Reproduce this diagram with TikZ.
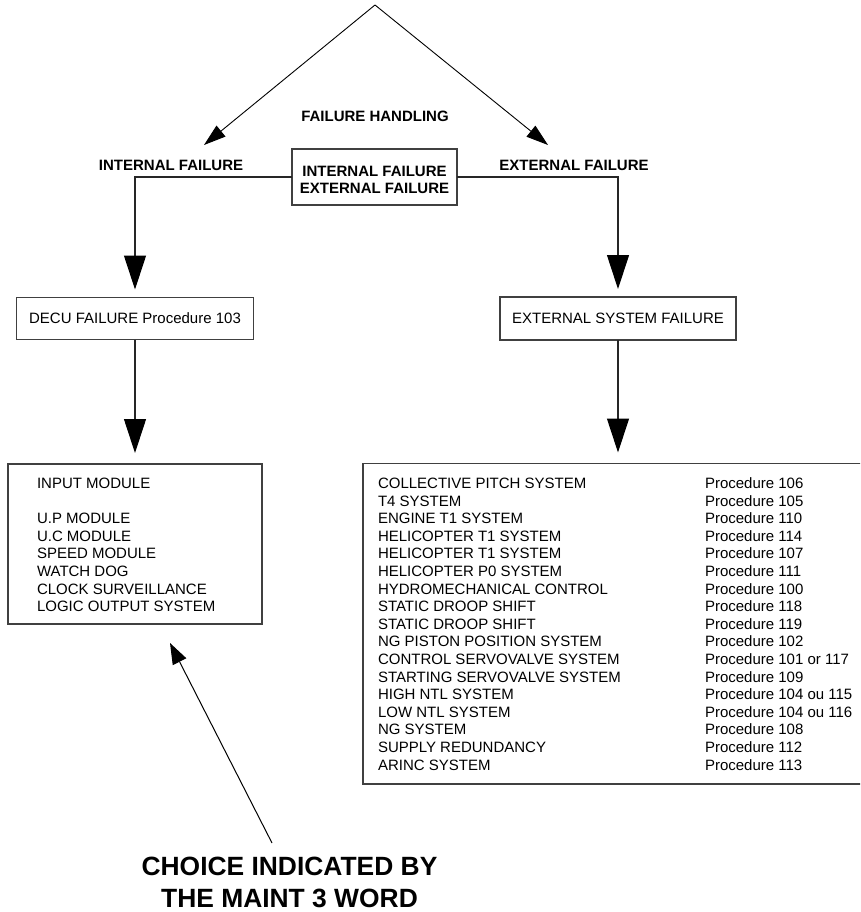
\documentclass[tikz,border=0pt]{standalone}
\usepackage{fontspec}
\setmainfont{Liberation Sans}
\usetikzlibrary{arrows.meta}
\begin{document}
\begin{tikzpicture}[x=1pt,y=-1pt,
  every node/.style={inner sep=0pt, outer sep=0pt},
  frame/.style={draw=black!75, line width=1.1pt, rectangle},
  plain/.style={font=\fontsize{15}{17.6}\selectfont},
  heading/.style={font=\fontsize{15}{17}\selectfont\bfseries},
  flow/.style={draw=black!85, line width=1.1pt, -{Triangle[length=34pt,width=22pt,color=black]}},
  branch/.style={draw=black, line width=0.9pt, -{Triangle[length=22pt,width=14pt]}},
  pointer/.style={draw=black, line width=1pt, -{Triangle[length=21pt,width=15pt]}},
]
\clip (0,0) rectangle (860,912);
\fill[white] (0,0) rectangle (860,912);

% split into the two failure families
\coordinate (apex) at (375,5);
\coordinate (intend) at (204,145);
\coordinate (extend) at (548,145);
\draw[branch] (apex) -- (intend);
\draw[branch] (apex) -- (extend);
\node[heading] (handling) at (375,116) {FAILURE HANDLING};
\node[heading] (intlabel) at (171,165) {INTERNAL FAILURE};
\node[heading] (extlabel) at (574,165) {EXTERNAL FAILURE};

\node[frame, minimum width=165pt, minimum height=56pt] (choice) at (374.5,177) {};
\node[heading, align=center] (choicetext) at (374.5,180.2) {INTERNAL FAILURE\\EXTERNAL FAILURE};

% second level
\node[frame, plain, minimum width=237pt, minimum height=42pt] (decu) at (135,318.5) {DECU FAILURE Procedure 103};
\node[frame, plain, minimum width=236pt, minimum height=43pt] (extsys) at (618,318.5) {EXTERNAL SYSTEM FAILURE};

\draw[flow] (choice.west) -| ([yshift=8pt]decu.north);
\draw[flow] (choice.east) -| ([yshift=8pt]extsys.north);

% internal modules
\node[frame, anchor=north west, minimum width=254pt, minimum height=160pt] (modules) at (8,464) {};
\draw[flow] (decu.south) -- ([yshift=11pt]modules.north);
\foreach \r/\t in {0/INPUT MODULE,2/U.P MODULE,3/U.C MODULE,4/SPEED MODULE,5/WATCH DOG,6/CLOCK SURVEILLANCE,7/LOGIC OUTPUT SYSTEM}
  \node[plain, anchor=base west] (mod\r) at (37,{488.4+17.6*\r}) {\t};

% external systems and their procedures
\node[frame, anchor=north west, minimum width=520pt, minimum height=320.5pt] (syslist) at (363,463.5) {};
\draw[flow] (extsys.south) -- ([yshift=11pt]extsys.south |- syslist.north);
\foreach \s/\p [count=\i from 0] in {COLLECTIVE PITCH SYSTEM/106,T4 SYSTEM/105,ENGINE T1 SYSTEM/110,HELICOPTER T1 SYSTEM/114,HELICOPTER T1 SYSTEM/107,HELICOPTER P0 SYSTEM/111,HYDROMECHANICAL CONTROL/100,STATIC DROOP SHIFT/118,STATIC DROOP SHIFT/119,NG PISTON POSITION SYSTEM/102,CONTROL SERVOVALVE SYSTEM/101 or 117,STARTING SERVOVALVE SYSTEM/109,HIGH NTL SYSTEM/104 ou 115,LOW NTL SYSTEM/104 ou 116,NG SYSTEM/108,SUPPLY REDUNDANCY/112,ARINC SYSTEM/113}
{
  \node[plain, anchor=base west] (sys\i) at (378,{488.4+17.6*\i}) {\s};
  \node[plain, anchor=base west] (proc\i) at (705,{488.4+17.6*\i}) {Procedure \p};
}

% MAINT 3 word pointer
\coordinate (ptail) at (272,843);
\coordinate (ptip) at (170,643);
\draw[pointer] (ptail) -- (ptip);
\node[font=\fontsize{26.4}{32}\selectfont\bfseries, align=center] (maint) at (289.5,882) {CHOICE INDICATED BY\\THE MAINT 3 WORD};
\end{tikzpicture}
\end{document}
